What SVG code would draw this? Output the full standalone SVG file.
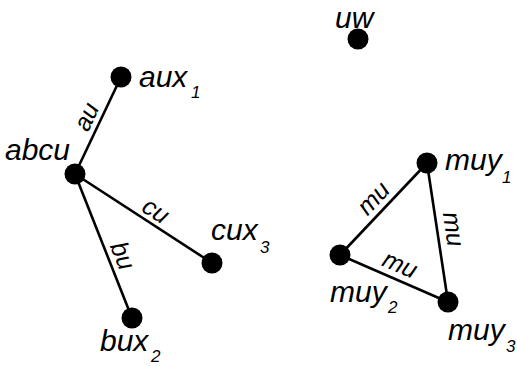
<svg xmlns="http://www.w3.org/2000/svg" width="517" height="366" viewBox="0 0 517 366">
  <style>
    .edge { stroke: #000; stroke-width: 2.6; fill: none; }
    .dot { fill: #000; }
    .lbl { font-family: "Liberation Sans", Arial, sans-serif; font-style: italic; font-size: 30px; fill: #000; }
    .sub { font-size: 17px; }
    .elbl { font-family: "Liberation Sans", Arial, sans-serif; font-style: italic; font-size: 25px; fill: #000; text-anchor: middle; }
  </style>

  <!-- connectors with their labels -->
  <g id="connectors">
    <line class="edge" x1="75" y1="174" x2="121" y2="77"/>
    <text class="elbl" transform="translate(98,125.5) rotate(-64.6)" x="3" y="-6">au</text>

    <line class="edge" x1="75" y1="174" x2="212" y2="263"/>
    <text class="elbl" transform="translate(143.5,218.5) rotate(33)" x="6" y="-5">cu</text>

    <line class="edge" x1="75" y1="174" x2="132" y2="318"/>
    <text class="elbl" transform="translate(103.5,246) rotate(68.4)" x="16" y="-6">bu</text>

    <line class="edge" x1="340" y1="255" x2="427" y2="163"/>
    <text class="elbl" transform="translate(383.5,209) rotate(-46.6)" x="1" y="-6.5">mu</text>

    <line class="edge" x1="427" y1="163" x2="448" y2="302"/>
    <text class="elbl" transform="translate(437.5,232.5) rotate(81.4)" x="-1" y="-8">mu</text>

    <line class="edge" x1="340" y1="255" x2="448" y2="302"/>
    <text class="elbl" transform="translate(394,278.5) rotate(23.5)" x="0" y="-7">mu</text>
  </g>

  <!-- nodes -->
  <g id="abcu">
    <circle class="dot" cx="75" cy="174" r="10.5"/>
    <text class="lbl" x="5" y="160">abcu</text>
  </g>
  <g id="aux1">
    <circle class="dot" cx="121" cy="77" r="10.5"/>
    <text class="lbl" x="139" y="87">aux</text>
    <text class="lbl sub" x="191" y="98">1</text>
  </g>
  <g id="cux3">
    <circle class="dot" cx="212" cy="263" r="10.5"/>
    <text class="lbl" x="211" y="240">cux</text>
    <text class="lbl sub" x="260" y="253">3</text>
  </g>
  <g id="bux2">
    <circle class="dot" cx="132" cy="318" r="10.5"/>
    <text class="lbl" x="100" y="351">bux</text>
    <text class="lbl sub" x="151" y="362">2</text>
  </g>
  <g id="uw">
    <circle class="dot" cx="358" cy="39" r="10.5"/>
    <text class="lbl" x="335" y="27.5">uw</text>
  </g>
  <g id="muy1">
    <circle class="dot" cx="427" cy="163" r="10.5"/>
    <text class="lbl" x="445" y="170">muy</text>
    <text class="lbl sub" x="502" y="183">1</text>
  </g>
  <g id="muy2">
    <circle class="dot" cx="340" cy="255" r="10.5"/>
    <text class="lbl" x="330" y="302">muy</text>
    <text class="lbl sub" x="388" y="313">2</text>
  </g>
  <g id="muy3">
    <circle class="dot" cx="448" cy="302" r="10.5"/>
    <text class="lbl" x="448" y="340">muy</text>
    <text class="lbl sub" x="506" y="352">3</text>
  </g>
</svg>
